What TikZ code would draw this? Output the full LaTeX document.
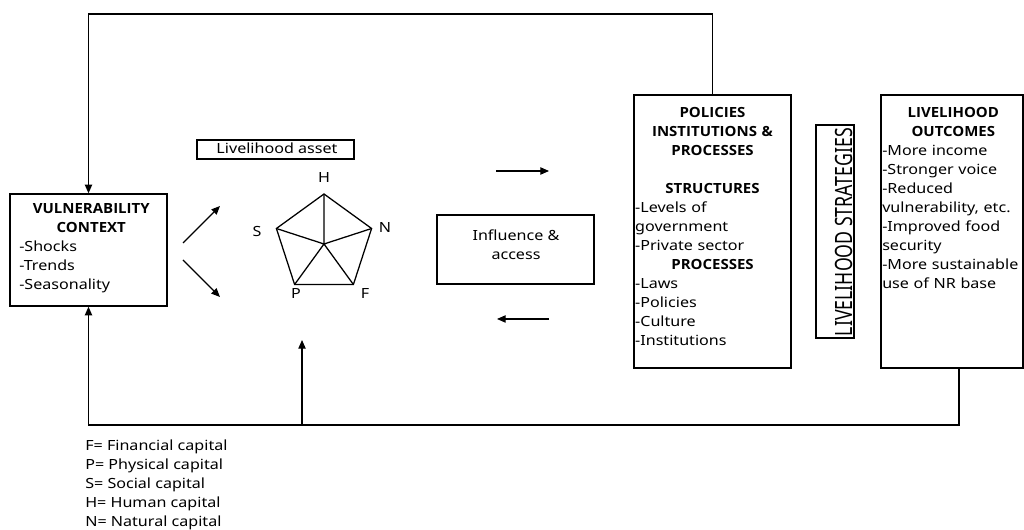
\documentclass[tikz,border=0pt]{standalone}
\usepackage{fontspec}
\setmainfont{Noto Sans}[FakeStretch=1.15]
\newfontfamily\hdfont{Open Sans}[FakeStretch=1.07]
\usepackage{graphicx}
\usepackage{tikz}
\usetikzlibrary{arrows.meta, positioning, fit, calc}
\newcommand{\fsz}{\fontsize{10.5pt}{14.25pt}\selectfont}
\newcommand{\hd}{\hdfont\bfseries}
\tikzset{
  frame/.style={rectangle, draw=black, line width=1.05pt, inner sep=0pt, align=center, font=\fsz},
  txt/.style={inner sep=0pt, font=\fsz},
  letter/.style={inner sep=0pt, font=\fsz},
  arrow/.style={-{Triangle[length=6.5pt, width=5.5pt]}, line width=0.85pt},
  wire/.style={line width=0.95pt},
}
\begin{document}
\begin{tikzpicture}[x=0.75pt, y=-0.75pt]
\useasboundingbox (0,0) rectangle (1024,530);
% boxes
\node[frame, fit={(10,194) (167,306)}] (vuln) {};
\node[frame, minimum width=117.75pt, minimum height=14.25pt] (asset) at (275.5,149.5) {};
\node[frame, minimum width=117.75pt, minimum height=51.75pt] (infl) at (515.5,249.5) {};
\node[frame, fit={(634,95) (791,368)}] (pip) {};
\node[frame, fit={(816,125) (854,338)}] (strat) {};
\node[frame, fit={(881,95) (1023,368)}] (outc) {};
% box texts
\node[txt, anchor=base] (assettxt) at (277,154) {Livelihood asset};
\node[txt, align=center, anchor=base] (infltxt) at (516,259.5) {Influence \&\\access};
\node[txt, text width=108pt, anchor=north west] (vulntxt) at (19,203)
  {{\centering\hd VULNERABILITY\\CONTEXT\par}\raggedright -Shocks\\-Trends\\-Seasonality};
\node[txt, text width=116pt, anchor=north] (piptxt) at (712.5,107)
  {{\centering\hd POLICIES\\INSTITUTIONS \&\\PROCESSES\\[14.25pt]STRUCTURES\par}
   \raggedright -Levels of\\government\\-Private sector\par
   {\centering\hd PROCESSES\par}
   \raggedright -Laws\\-Policies\\-Culture\\-Institutions};
\node[txt, rotate=90, anchor=base] (strattxt) at (852,232) {\scalebox{1.1}[1.7]{LIVELIHOOD STRATEGIES}};
\node[txt, text width=106.5pt, anchor=north west] (outctxt) at (882,107)
  {{\centering\hd LIVELIHOOD\\OUTCOMES\par}\raggedright -More income\\-Stronger voice\\-Reduced\\vulnerability, etc.\\-Improved food\\security\\-More sustainable\\use of NR base};
\node[txt, anchor=north west, align=left] (legend) at (85,440)
  {F= Financial capital\\P= Physical capital\\S= Social capital\\H= Human capital\\N= Natural capital};
% asset pentagon
\coordinate (ctr) at (324,244);
\coordinate (vH) at (324,194);
\coordinate (vN) at (371.6,228.5);
\coordinate (vF) at (353.4,284.5);
\coordinate (vP) at (294.6,284.5);
\coordinate (vS) at (276.4,228.5);
\draw[wire] (vH) -- (vN) -- (vF) -- (vP) -- (vS) -- cycle;
\draw[wire] (ctr) -- (vH) (ctr) -- (vN) (ctr) -- (vF) (ctr) -- (vP) (ctr) -- (vS);
\node[letter] (lblH) at (324,178) {H};
\node[letter] (lblN) at (385,228) {N};
\node[letter] (lblF) at (365,294) {F};
\node[letter] (lblP) at (296,294) {P};
\node[letter] (lblS) at (257,232) {S};
% free arrows
\coordinate (upA) at (183,243);
\coordinate (upB) at (220,206);
\coordinate (dnA) at (183,260);
\coordinate (dnB) at (220,297);
\draw[arrow] (upA) -- (upB);
\draw[arrow] (dnA) -- (dnB);
\coordinate (toA) at (496,171);
\coordinate (toB) at (549,171);
\coordinate (frA) at (549,319);
\coordinate (frB) at (497,319);
\draw[arrow] (toA) -- (toB);
\draw[arrow] (frA) -- (frB);
% feedback loops
\coordinate (topR) at (712.5,14);
\draw[arrow] (pip.north) -- (topR) -| (vuln.north);
\coordinate (botR) at (959,425);
\coordinate (assetUp) at (302,340);
\draw[arrow] (botR |- outc.south) -- (botR) -| (vuln.south);
\draw[arrow] (assetUp |- botR) -- (assetUp);
\end{tikzpicture}
\end{document}
